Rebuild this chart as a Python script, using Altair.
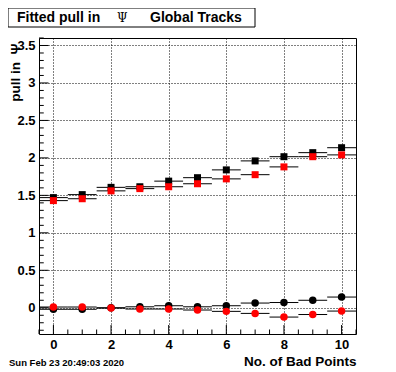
import altair as alt
import pandas as pd

# ---- data ----
bins = [0, 1, 2, 3, 4, 5, 6, 7, 8, 9, 10]
black_sq = [1.47, 1.51, 1.607, 1.615, 1.69, 1.736, 1.84, 1.96, 2.016, 2.07, 2.136]
red_sq = [1.43, 1.455, 1.56, 1.59, 1.615, 1.655, 1.72, 1.776, 1.88, 2.016, 2.04]
black_ci = [-0.02, -0.02, 0.0, 0.013, 0.027, 0.013, 0.027, 0.063, 0.07, 0.10, 0.143]
red_ci = [0.01, 0.01, -0.004, -0.017, -0.017, -0.03, -0.048, -0.075, -0.124, -0.09, -0.044]
half_width = 0.5

x_major = [0, 2, 4, 6, 8, 10]
x_minor = [-0.5, 0.5, 1, 1.5, 2.5, 3, 3.5, 4.5, 5, 5.5, 6.5, 7, 7.5, 8.5, 9, 9.5, 10.5]
y_major = [0, 0.5, 1, 1.5, 2, 2.5, 3, 3.5]
y_minor = [round(-0.3 + 0.1 * i, 1) for i in range(40) if round((-0.3 + 0.1 * i) * 10) % 5 != 0]

title_parts = ["Fitted pull in", "\u03a8", "Global Tracks"]
x_title = "No. of Bad Points"
y_title = "pull in\u00a0\u00a0\u03a8"
date_text = "Sun Feb 23 20:49:03 2020"

W, H = 317, 296
FONT = "Liberation Sans"

rows = []
for name, vals, shape, col in [
    ("black_sq", black_sq, "square", "#000000"),
    ("black_ci", black_ci, "circle", "#000000"),
    ("red_sq", red_sq, "square", "#ff0000"),
    ("red_ci", red_ci, "circle", "#ff0000"),
]:
    for b, v in zip(bins, vals):
        rows.append({"x": b, "lo": b - half_width, "hi": b + half_width, "y": v,
                     "series": name, "shape": shape, "color": col})
df = pd.DataFrame(rows)

xs = alt.Scale(domain=[-0.5, 10.5], nice=False, zero=False)
ys = alt.Scale(domain=[-0.35, 3.6], nice=False, zero=False)

x_axis = alt.Axis(values=x_major, grid=True, gridDash=[1, 2], gridColor="black", gridOpacity=1,
                  gridWidth=1, ticks=False, tickSize=0, domain=False, labelFont=FONT,
                  labelFontWeight="bold", labelFontSize=13, labelColor="black", labelPadding=4,
                  title=x_title, titleFont=FONT, titleFontWeight="bold", titleFontSize=13.5,
                  titleColor="black", titleAlign="right", titleAnchor="end", titleX=W, titleY=31,
                  titleBaseline="alphabetic", labelFlush=False, labelOverlap=False)
y_axis = alt.Axis(values=y_major, format="~g", grid=True, gridDash=[1, 2], gridColor="black",
                  gridOpacity=1, gridWidth=1, ticks=False, tickSize=0, domain=False,
                  labelFont=FONT, labelFontWeight="bold", labelFontSize=13, labelColor="black",
                  labelPadding=4, title=y_title, titleFont=FONT, titleFontWeight="bold",
                  titleFontSize=13.5, titleColor="black", titleAngle=270, titleAlign="right",
                  titleAnchor="end", titleX=-23.5, titleY=5, titleBaseline="middle",
                  labelFlush=False, labelOverlap=False)

X = alt.X("x:Q", scale=xs, axis=x_axis)
Y = alt.Y("y:Q", scale=ys, axis=y_axis)

base = alt.Chart(df)

bars = base.mark_rule(color="black", strokeWidth=1).encode(
    x=alt.X("lo:Q", scale=xs, axis=x_axis), x2="hi:Q", y=Y)

black_pts = base.transform_filter("datum.color == '#000000'").mark_point(
    filled=True, opacity=1, strokeWidth=0).encode(
    x=X, y=Y, shape=alt.Shape("shape:N", scale=None),
    color=alt.Color("color:N", scale=None),
    size=alt.condition("datum.shape == 'square'", alt.value(49), alt.value(56)))
red_pts = base.transform_filter("datum.color == '#ff0000'").mark_point(
    filled=True, opacity=1, strokeWidth=0).encode(
    x=X, y=Y, shape=alt.Shape("shape:N", scale=None),
    color=alt.Color("color:N", scale=None),
    size=alt.condition("datum.shape == 'square'", alt.value(49), alt.value(56)))

xt_major = alt.Chart(pd.DataFrame({"x": x_major})).mark_rule(color="black").encode(
    x=X, y=alt.value(H), y2=alt.value(H - 9))
xt_minor = alt.Chart(pd.DataFrame({"x": x_minor})).mark_rule(color="black").encode(
    x=X, y=alt.value(H), y2=alt.value(H - 4.5))
yt_major = alt.Chart(pd.DataFrame({"y": y_major})).mark_rule(color="black").encode(
    y=Y, x=alt.value(0), x2=alt.value(9.5))
yt_minor = alt.Chart(pd.DataFrame({"y": y_minor})).mark_rule(color="black").encode(
    y=Y, x=alt.value(0), x2=alt.value(4.75))

one = pd.DataFrame({"a": [0]})
title_box = alt.Chart(one).mark_rect(fill="white", stroke="black", strokeWidth=1).encode(
    x=alt.value(-31), x2=alt.value(216), y=alt.value(-30), y2=alt.value(-11))
t1 = alt.Chart(one).mark_text(font=FONT, fontWeight="bold", fontSize=14, align="left",
                              baseline="alphabetic", color="black").encode(
    x=alt.value(-22), y=alt.value(-16), text=alt.value(title_parts[0]))
t2 = alt.Chart(one).mark_text(font="DejaVu Serif", fontSize=12, align="left",
                              baseline="alphabetic", color="black").encode(
    x=alt.value(78), y=alt.value(-16), text=alt.value(title_parts[1]))
t3 = alt.Chart(one).mark_text(font=FONT, fontWeight="bold", fontSize=14, align="left",
                              baseline="alphabetic", color="black").encode(
    x=alt.value(111), y=alt.value(-16), text=alt.value(title_parts[2]))
date = alt.Chart(one).mark_text(font=FONT, fontWeight="bold", fontSize=9.5, align="left",
                                baseline="alphabetic", color="black").encode(
    x=alt.value(-30), y=alt.value(327.5), text=alt.value(date_text))

chart = alt.layer(
    bars, xt_major, xt_minor, yt_major, yt_minor, black_pts, red_pts,
    title_box, t1, t2, t3, date
).properties(
    width=W, height=H,
    autosize=alt.AutoSizeParams(type="none"),
    padding={"left": 31, "top": 30, "right": 20, "bottom": 36},
    background="white",
).configure_view(stroke="black", strokeWidth=1)

chart.save("out.html", embed_options={"renderer": "svg", "actions": False})
